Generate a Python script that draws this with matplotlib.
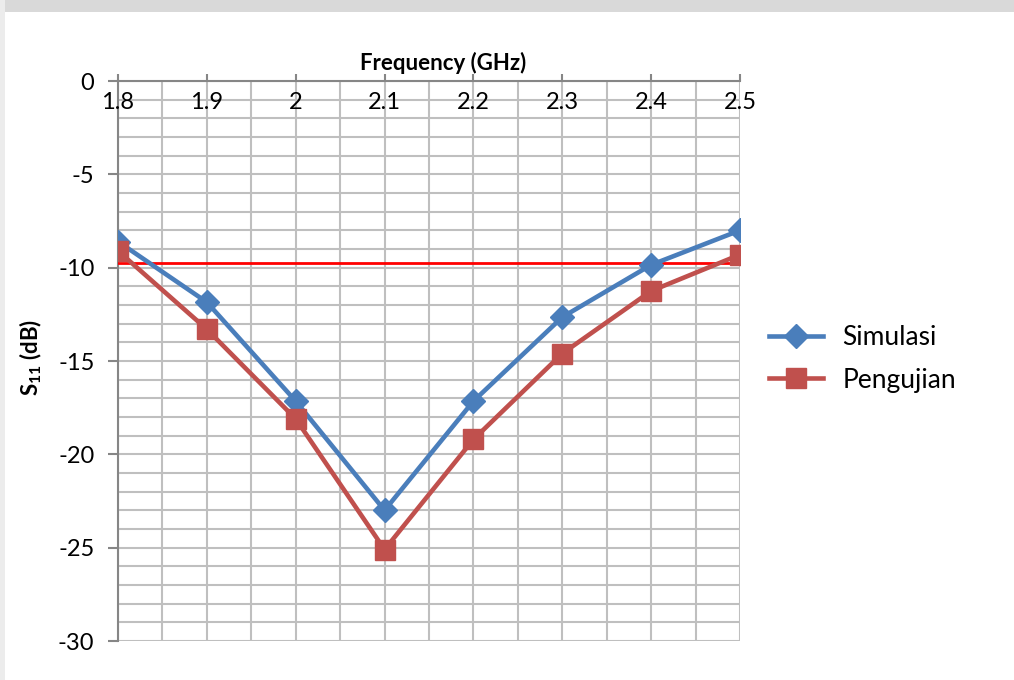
import numpy as np
import matplotlib
matplotlib.use('Agg')
import matplotlib.pyplot as plt
from matplotlib.patches import Rectangle

plt.rcParams['font.family'] = ['Lato', 'DejaVu Sans']
plt.rcParams['mathtext.fontset'] = 'custom'
plt.rcParams['mathtext.rm'] = 'Lato'
plt.rcParams['mathtext.bf'] = 'Lato:bold'

# S11 measurements (dB) versus frequency (GHz)
freq = [1.8, 1.9, 2.0, 2.1, 2.2, 2.3, 2.4, 2.5]
simulasi = [-8.6, -11.85, -17.15, -23.0, -17.15, -12.65, -9.85, -8.0]
pengujian = [-9.1, -13.3, -18.1, -25.1, -19.2, -14.6, -11.25, -9.3]
batas_x = [1.8, 2.495]
batas_y = [-9.75, -9.75]
xtick_labels = ['1.8', '1.9', '2', '2.1', '2.2', '2.3', '2.4', '2.5']

blue = '#4a7ebb'
red = '#c0504d'
grid_c = '#bfbfbf'
axis_c = '#868686'

fig = plt.figure(figsize=(10.14, 6.8), dpi=100)

# page background strip
fig.patches.append(Rectangle((0, 1 - 12 / 680), 1, 12 / 680, transform=fig.transFigure,
                             facecolor='#d9d9d9', edgecolor='none', zorder=0))
fig.patches.append(Rectangle((0, 0), 5 / 1014, 1, transform=fig.transFigure,
                             facecolor='#ececec', edgecolor='none', zorder=0))

ax = fig.add_axes([118 / 1014, 1 - 641 / 680, (740 - 118) / 1014, (641 - 81) / 680])

ax.plot(batas_x, batas_y, color='#ff0000', lw=2.0, zorder=3)
ax.plot(freq, simulasi, color=blue, lw=3.3, marker='D', ms=12, label='Simulasi', zorder=4)
ax.plot(freq, pengujian, color=red, lw=3.3, marker='s', ms=14, label='Pengujian', zorder=4)

ax.set_xlim(1.8, 2.5)
ax.set_ylim(-30, 0)

ax.set_xticks(np.arange(1.8, 2.5001, 0.1))
ax.set_xticks(np.arange(1.8, 2.5001, 0.05), minor=True)
ax.set_yticks(np.arange(-30, 0.1, 5))
ax.set_yticks(np.arange(-30, 0.1, 1), minor=True)

ax.grid(which='both', color=grid_c, lw=1.5, zorder=1)
ax.set_axisbelow(True)

ax.xaxis.set_ticks_position('top')
ax.tick_params(axis='x', which='major', direction='out', length=5, color=axis_c,
               width=1.5, labeltop=False, labelbottom=False)
ax.tick_params(axis='x', which='minor', length=0)
ax.tick_params(axis='y', which='major', direction='out', length=7, color=axis_c,
               width=1.5, labelsize=17, pad=10)
ax.tick_params(axis='y', which='minor', length=0)
ax.set_yticklabels([f'{v:g}' for v in np.arange(-30, 0.1, 5)])

# x tick labels sit just under the top axis line
for x, lbl in zip(np.arange(1.8, 2.5001, 0.1), xtick_labels):
    ax.annotate(lbl, xy=(x, 0), xytext=(0, -8), textcoords='offset points',
                ha='center', va='top', fontsize=17)

for side in ['right', 'bottom']:
    ax.spines[side].set_visible(False)
for side in ['left', 'top']:
    ax.spines[side].set_color(axis_c)
    ax.spines[side].set_linewidth(1.5)

fig.text(443 / 1014, 1 - 63 / 680, 'Frequency (GHz)', ha='center', va='center',
         fontsize=16, fontweight='bold')
fig.text(31 / 1014, 1 - 357 / 680, r'$\mathbf{S_{11}}$ (dB)', ha='center', va='center',
         rotation=90, fontsize=16, fontweight='bold')

fig.legend(loc='center left', bbox_to_anchor=(745 / 1014, 1 - 359 / 680), frameon=False,
           fontsize=19, handlelength=2.05, labelspacing=0.65, handletextpad=0.75)

fig.savefig('out.png', dpi=100)
